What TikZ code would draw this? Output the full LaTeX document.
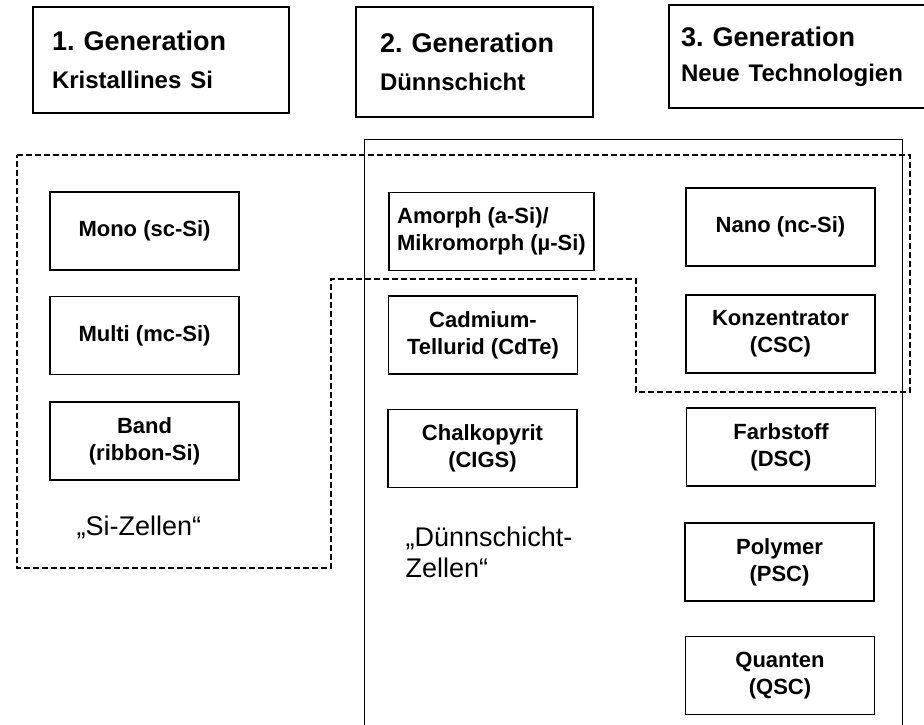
\documentclass[tikz,border=0pt]{standalone}
\usepackage{fontspec}
\setmainfont{Liberation Sans}
\usepackage{tikz}
\usetikzlibrary{positioning}
\frenchspacing
\tikzset{
    genbox/.style={rectangle, draw=black, line width=1.3pt, align=left, font=\bfseries\fontsize{27}{32}\selectfont, inner ysep=0pt},
    cellbox/.style={rectangle, draw=black, line width=1.3pt, minimum width=189pt, minimum height=78pt, align=center, font=\bfseries\fontsize{22}{27}\selectfont},
    grouplabel/.style={align=left, font=\fontsize{27}{31}\selectfont},
    siarea/.style={line width=1.2pt, dash pattern=on 6pt off 3pt},
    tfarea/.style={line width=0.9pt}
}
\newcommand{\subline}[1]{{\fontsize{24}{32}\selectfont #1}}

\begin{document}
\begin{tikzpicture}[x=1pt, y=-1pt]
    \useasboundingbox (0,0) rectangle (924,724);

    % Generation headers
    \node[genbox, text width=218pt, inner xsep=19pt, minimum height=106pt] (gen1) at (161,60) {1. Generation\\[6pt]\subline{Kristallines Si}};
    \node[genbox, text width=189pt, inner xsep=24pt, minimum height=110pt] (gen2) at (474.5,62) {2. Generation\\[6pt]\subline{Dünnschicht}};
    \node[genbox, text width=235pt, inner xsep=12pt, minimum height=103pt] (gen3) at (798.5,56.5) {3. Generation\\[3pt]\subline{Neue Technologien}};

    % Thin film area (solid)
    \draw[tfarea] (364,730) -- (364,139) -- (902,139) -- (902,730);

    % Si area (dashed)
    \draw[siarea] (17,155) -- (910,155) -- (910,392) -- (636,392) -- (636,279)
        -- (331,279) -- (331,568) -- (17,568) -- cycle;

    % 1. Generation cells
    \node[cellbox] (mono) at (144.5,231) {Mono (sc-Si)};
    \node[cellbox] (multi) at (144.5,335.5) {Multi (mc-Si)};
    \node[cellbox] (band) at (144.5,441) {Band\\(ribbon-Si)};
    \node[grouplabel] (silabel) at (139,527) {„Si-Zellen“};

    % 2. Generation cells
    \node[cellbox, minimum width=205pt, align=left] (amorph) at (491.5,231.5) {Amorph (a-Si)/\\Mikromorph (µ-Si)};
    \node[cellbox] (cdte) at (483,335) {Cadmium-\\Tellurid (CdTe)};
    \node[cellbox] (cigs) at (482.5,448.5) {Chalkopyrit\\(CIGS)};
    \node[grouplabel] (tflabel) at (489,552) {„Dünnschicht-\\Zellen“};

    % 3. Generation cells
    \node[cellbox] (nano) at (780.5,227) {Nano (nc-Si)};
    \node[cellbox] (csc) at (780.5,334) {Konzentrator\\(CSC)};
    \node[cellbox] (dsc) at (781,447) {Farbstoff\\(DSC)};
    \node[cellbox] (psc) at (779.5,562) {Polymer\\(PSC)};
    \node[cellbox] (qsc) at (780,675.5) {Quanten\\(QSC)};
\end{tikzpicture}
\end{document}
